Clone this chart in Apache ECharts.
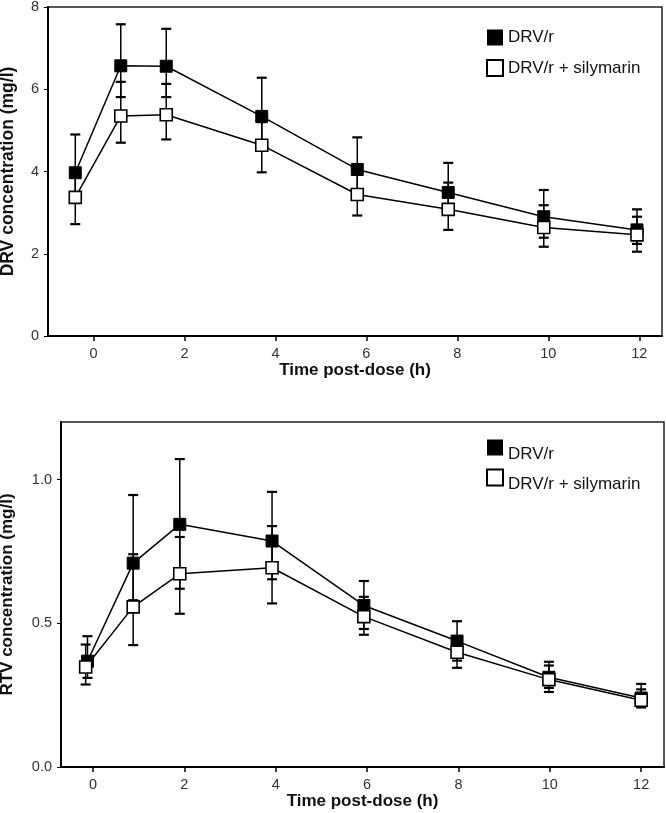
<!DOCTYPE html>
<html>
<head>
<meta charset="utf-8">
<script src="https://cdn.jsdelivr.net/npm/echarts@6/dist/echarts.min.js"></script>
<style>
  html, body { margin: 0; padding: 0; background: #fff; }
  #chart { width: 666px; height: 813px; }
</style>
</head>
<body>
<div id="chart"></div>
<script>
// ---------- DATA ----------
const seriesNames = ['DRV/r', 'DRV/r + silymarin'];
const xTickValues = [0, 2, 4, 6, 8, 10, 12];

// Top panel: DRV concentration (mg/l)
const drvTimes = [-0.4, 0.6, 1.6, 3.7, 5.8, 7.8, 9.9, 11.95];
const drvMean = [3.97, 6.57, 6.56, 5.34, 4.05, 3.49, 2.90, 2.58];
const drvUpper = [4.90, 7.58, 7.47, 6.28, 4.83, 4.21, 3.55, 3.08];
const drvLower = [3.26, 5.81, 5.81, 4.70, 3.50, 2.95, 2.39, 2.24];
const drvSilMean = [3.37, 5.35, 5.38, 4.64, 3.44, 3.08, 2.64, 2.46];
const drvSilUpper = [3.90, 6.18, 6.13, 5.20, 3.95, 3.73, 3.18, 2.90];
const drvSilLower = [2.72, 4.70, 4.78, 3.98, 2.93, 2.58, 2.17, 2.05];
const drvYTicks = [0, 2, 4, 6, 8];

// Bottom panel: RTV concentration (mg/l)
const rtvTimes = [-0.12, 0.88, 1.9, 3.92, 5.93, 7.97, 9.98, 12.0];
const rtvSilTimes = [-0.16, 0.88, 1.9, 3.92, 5.93, 7.97, 9.98, 12.0];
const rtvMean = [0.368, 0.709, 0.844, 0.786, 0.562, 0.438, 0.312, 0.240];
const rtvUpper = [0.455, 0.946, 1.071, 0.957, 0.647, 0.507, 0.366, 0.289];
const rtvLower = [0.310, 0.580, 0.620, 0.653, 0.480, 0.370, 0.261, 0.207];
const rtvSilMean = [0.348, 0.557, 0.672, 0.693, 0.523, 0.399, 0.304, 0.232];
const rtvSilUpper = [0.426, 0.740, 0.800, 0.838, 0.592, 0.430, 0.353, 0.270];
const rtvSilLower = [0.287, 0.424, 0.533, 0.569, 0.460, 0.345, 0.275, 0.215];
const rtvYTicks = [0, 0.5, 1.0];

// ---------- BUILD ----------
const FONT = 'Liberation Sans, Arial, sans-serif';
const pts = (xs, ys) => xs.map((x, i) => [x, ys[i]]);
const bars = (xs, lo, hi) => xs.map((x, i) => [x, lo[i], hi[i]]);

function errorBarRender(params, api) {
  const x = api.value(0);
  const pLo = api.coord([x, api.value(1)]);
  const pHi = api.coord([x, api.value(2)]);
  const hw = 5;
  const stroke = '#000';
  return {
    type: 'group',
    children: [
      { type: 'line', shape: { x1: pLo[0], y1: pLo[1], x2: pHi[0], y2: pHi[1] }, style: { stroke, lineWidth: 1.5 } },
      { type: 'line', shape: { x1: pLo[0] - hw, y1: pLo[1], x2: pLo[0] + hw, y2: pLo[1] }, style: { stroke, lineWidth: 2.2 } },
      { type: 'line', shape: { x1: pHi[0] - hw, y1: pHi[1], x2: pHi[0] + hw, y2: pHi[1] }, style: { stroke, lineWidth: 2.2 } }
    ]
  };
}

function errSeries(name, idx, data) {
  return {
    type: 'custom', name: name + ' error', xAxisIndex: idx, yAxisIndex: idx,
    renderItem: errorBarRender, data, z: 1, silent: true,
    encode: { x: 0, y: [1, 2] }
  };
}
function lineSeries(name, idx, data, filled) {
  return {
    type: 'line', name, xAxisIndex: idx, yAxisIndex: idx, data,
    symbol: 'rect', symbolSize: 12, showSymbol: true,
    lineStyle: { color: '#000', width: 1.5 },
    itemStyle: filled ? { color: '#000', borderColor: '#000', borderWidth: 1 }
                      : { color: '#fff', borderColor: '#000', borderWidth: 1.6 },
    z: filled ? 2 : 3, animation: false
  };
}

function xAxis(idx, min) {
  return {
    type: 'value', gridIndex: idx, min, max: 12.5,
    name: 'Time post-dose (h)', nameLocation: 'middle', nameGap: idx === 0 ? 24 : 21,
    nameTextStyle: { fontFamily: FONT, fontSize: 17, fontWeight: 'bold', color: '#111' },
    axisLine: { show: true, onZero: false, lineStyle: { color: '#000', width: 2 } },
    axisTick: { show: true, inside: false, length: 5, lineStyle: { color: '#000', width: 1.5 }, customValues: xTickValues },
    axisLabel: { show: true, margin: 10, fontFamily: FONT, fontSize: 14.5, color: '#333', customValues: xTickValues },
    splitLine: { show: false }
  };
}
function yAxis(idx, max, ticks, name, gap, fs, fmt) {
  return {
    type: 'value', gridIndex: idx, min: 0, max,
    name, nameLocation: 'middle', nameGap: gap,
    nameTextStyle: { fontFamily: FONT, fontSize: fs, fontWeight: 'bold', color: '#111' },
    axisLine: { show: true, onZero: false, lineStyle: { color: '#000', width: 2 } },
    axisTick: { show: true, inside: false, length: 4, lineStyle: { color: '#000', width: 1 }, customValues: ticks },
    axisLabel: { show: true, margin: 9, fontFamily: FONT, fontSize: 14.5, color: '#333', customValues: ticks, formatter: fmt },
    splitLine: { show: false }
  };
}

function legend(top, shifted) {
  const l = {
    orient: 'vertical', left: 481, top, itemWidth: 16, itemHeight: 16,
    itemGap: 13,
    textStyle: { fontFamily: FONT, fontSize: 17, color: '#111' },
    data: [
      { name: seriesNames[0], icon: 'rect', itemStyle: { color: '#000', borderColor: '#000', borderWidth: 0 } },
      { name: seriesNames[1], icon: 'rect', itemStyle: { color: '#fff', borderColor: '#000', borderWidth: 2 } }
    ],
    selectedMode: false
  };
  if (shifted) {
    l.formatter = name => '\n' + name;
    l.textStyle.lineHeight = 14;
    l.itemGap = -1;
  }
  return l;
}

const chart = echarts.init(document.getElementById('chart'), null, { renderer: 'canvas' });
chart.setOption({
  animation: false,
  backgroundColor: '#fff',
  grid: [
    { left: 48, top: 7, width: 614, height: 329, outerBoundsMode: 'none', containLabel: false, show: true, borderColor: '#222', borderWidth: 1.5, backgroundColor: 'transparent' },
    { left: 61, top: 422, width: 603, height: 345, outerBoundsMode: 'none', containLabel: false, show: true, borderColor: '#222', borderWidth: 1.5, backgroundColor: 'transparent' }
  ],
  legend: [legend(24, false), legend(427, true)],
  xAxis: [xAxis(0, -1), xAxis(1, -0.7)],
  yAxis: [
    yAxis(0, 8, drvYTicks, 'DRV concentration (mg/l)', 31, 17.5, v => String(v)),
    yAxis(1, 1.2, rtvYTicks, 'RTV concentration (mg/l)', 45, 17, v => v.toFixed(1))
  ],
  series: [
    errSeries(seriesNames[0], 0, bars(drvTimes, drvLower, drvUpper)),
    errSeries(seriesNames[1], 0, bars(drvTimes, drvSilLower, drvSilUpper)),
    lineSeries(seriesNames[0], 0, pts(drvTimes, drvMean), true),
    lineSeries(seriesNames[1], 0, pts(drvTimes, drvSilMean), false),
    errSeries(seriesNames[0], 1, bars(rtvTimes, rtvLower, rtvUpper)),
    errSeries(seriesNames[1], 1, bars(rtvSilTimes, rtvSilLower, rtvSilUpper)),
    lineSeries(seriesNames[0], 1, pts(rtvTimes, rtvMean), true),
    lineSeries(seriesNames[1], 1, pts(rtvSilTimes, rtvSilMean), false)
  ]
});
</script>
</body>
</html>
